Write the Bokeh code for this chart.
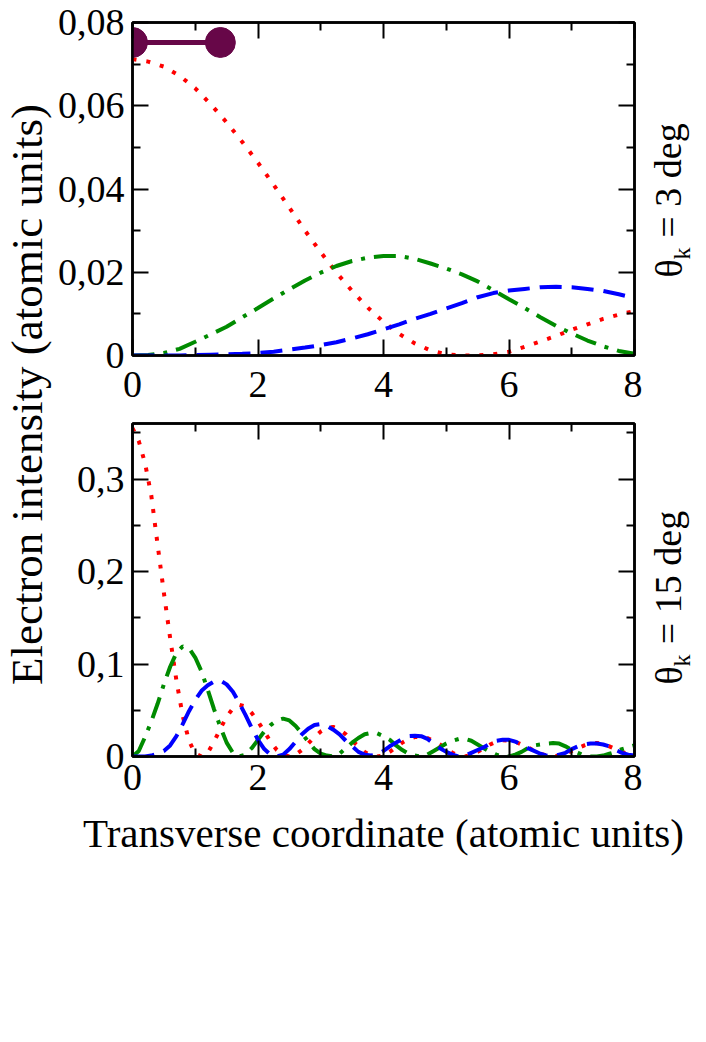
from math import pi
from bokeh.plotting import figure
from bokeh.layouts import row, column
from bokeh.models import (Range1d, LinearAxis, FixedTicker, CustomJSTickFormatter,
                          Label, ColumnDataSource)
from bokeh.embed import file_html
from bokeh.resources import INLINE

# ---------------- data ----------------
# top panel (theta_k = 3 deg)
x_top = [0.0, 0.25, 0.5, 0.75, 1.0, 1.25, 1.5, 1.75, 2.0, 2.25, 2.5, 2.75, 3.0,
         3.25, 3.5, 3.75, 4.0, 4.25, 4.5, 4.75, 5.0, 5.25, 5.5, 5.75, 6.0, 6.25,
         6.5, 6.75, 7.0, 7.25, 7.5, 7.75, 8.0]
top_red = [0.0712, 0.0706, 0.0694, 0.0672, 0.0642, 0.0603, 0.0560, 0.0513, 0.0463,
           0.0410, 0.0355, 0.0300, 0.0248, 0.0199, 0.0155, 0.0115, 0.0081, 0.0052,
           0.0029, 0.0012, 0.0003, 0.0000, 0.0000, 0.0003, 0.0009, 0.0021, 0.0034,
           0.0047, 0.0062, 0.0075, 0.0088, 0.0098, 0.0107]
top_green = [0.0000, 0.0001, 0.0006, 0.0016, 0.0033, 0.0051, 0.0069, 0.0092, 0.0114,
             0.0137, 0.0159, 0.0180, 0.0199, 0.0215, 0.0227, 0.0235, 0.0239, 0.0239,
             0.0232, 0.0221, 0.0209, 0.0195, 0.0178, 0.0157, 0.0135, 0.0114, 0.0092,
             0.0071, 0.0053, 0.0036, 0.0022, 0.0011, 0.0004]
top_blue = [0.0000, 0.0000, 0.0000, 0.0000, 0.0001, 0.0002, 0.0003, 0.0004, 0.0006,
            0.0009, 0.0014, 0.0019, 0.0025, 0.0032, 0.0041, 0.0051, 0.0063, 0.0075,
            0.0088, 0.0100, 0.0113, 0.0126, 0.0140, 0.0150, 0.0156, 0.0160, 0.0164,
            0.0165, 0.0164, 0.0160, 0.0155, 0.0147, 0.0138]

# molecule sketch (two atoms joined by a bond)
mol_x = [0.0, 1.4]
mol_y = [0.0752, 0.0752]

# bottom panel (theta_k = 15 deg)
x_bot = [0.0, 0.1, 0.2, 0.3, 0.4, 0.5, 0.6, 0.7, 0.8, 0.9, 1.0, 1.1, 1.2, 1.3, 1.4,
         1.5, 1.6, 1.7, 1.8, 1.9, 2.0, 2.1, 2.2, 2.3, 2.4, 2.5, 2.6, 2.7, 2.8, 2.9,
         3.0, 3.1, 3.2, 3.3, 3.4, 3.5, 3.6, 3.7, 3.8, 3.9, 4.0, 4.1, 4.2, 4.3, 4.4,
         4.5, 4.6, 4.7, 4.8, 4.9, 5.0, 5.1, 5.2, 5.3, 5.4, 5.5, 5.6, 5.7, 5.8, 5.9,
         6.0, 6.1, 6.2, 6.3, 6.4, 6.5, 6.6, 6.7, 6.8, 6.9, 7.0, 7.1, 7.2, 7.3, 7.4,
         7.5, 7.6, 7.7, 7.8, 7.9, 8.0]
bot_red = [0.355, 0.341, 0.317, 0.282, 0.229, 0.177, 0.128, 0.082, 0.044, 0.017,
           0.003, 0.000, 0.004, 0.016, 0.030, 0.043, 0.052, 0.056, 0.054, 0.047,
           0.038, 0.027, 0.016, 0.007, 0.002, 0.000, 0.002, 0.007, 0.014, 0.021,
           0.027, 0.031, 0.032, 0.029, 0.024, 0.017, 0.011, 0.005, 0.001, 0.000,
           0.001, 0.005, 0.010, 0.015, 0.019, 0.021, 0.0215, 0.020, 0.017, 0.013,
           0.008, 0.004, 0.001, 0.000, 0.002, 0.005, 0.009, 0.013, 0.016, 0.0175,
           0.017, 0.016, 0.013, 0.010, 0.006, 0.003, 0.001, 0.000, 0.001, 0.003,
           0.006, 0.009, 0.012, 0.014, 0.0145, 0.014, 0.011, 0.008, 0.005, 0.003,
           0.001]
bot_green = [0.000, 0.006, 0.021, 0.038, 0.057, 0.078, 0.097, 0.112, 0.119, 0.117,
             0.107, 0.092, 0.072, 0.051, 0.032, 0.015, 0.004, 0.000, 0.002, 0.009,
             0.018, 0.027, 0.034, 0.039, 0.041, 0.039, 0.033, 0.025, 0.016, 0.008,
             0.003, 0.001, 0.000, 0.003, 0.009, 0.015, 0.020, 0.024, 0.0255, 0.025,
             0.022, 0.018, 0.012, 0.007, 0.003, 0.001, 0.000, 0.002, 0.006, 0.010,
             0.014, 0.017, 0.019, 0.019, 0.017, 0.013, 0.009, 0.005, 0.002, 0.000,
             0.000, 0.002, 0.005, 0.009, 0.012, 0.013, 0.014, 0.0145, 0.014, 0.011,
             0.007, 0.004, 0.001, 0.000, 0.000, 0.001, 0.003, 0.005, 0.008, 0.010,
             0.012]
bot_blue = [0.000, 0.000, 0.000, 0.001, 0.003, 0.006, 0.012, 0.022, 0.035, 0.049,
            0.061, 0.071, 0.077, 0.081, 0.082, 0.078, 0.070, 0.058, 0.045, 0.031,
            0.018, 0.008, 0.002, 0.000, 0.002, 0.008, 0.016, 0.024, 0.030, 0.034,
            0.035, 0.033, 0.029, 0.024, 0.017, 0.011, 0.005, 0.002, 0.001, 0.002,
            0.006, 0.011, 0.015, 0.019, 0.022, 0.0225, 0.022, 0.019, 0.014, 0.009,
            0.005, 0.002, 0.000, 0.001, 0.004, 0.007, 0.010, 0.014, 0.017, 0.018,
            0.018, 0.016, 0.013, 0.009, 0.006, 0.003, 0.001, 0.000, 0.002, 0.004,
            0.008, 0.011, 0.013, 0.014, 0.014, 0.013, 0.011, 0.007, 0.004, 0.002,
            0.001]

x_major = [0, 2, 4, 6, 8]
x_minor = [1, 3, 5, 7]
top_y_major = [0, 0.02, 0.04, 0.06, 0.08]
top_y_minor = [0.01, 0.03, 0.05, 0.07]
bot_y_major = [0, 0.1, 0.2, 0.3]
bot_y_minor = [0.05, 0.15, 0.25, 0.35]

y_title = "Electron intensity (atomic units)"
x_title = "Transverse coordinate (atomic units)"
top_angle_text = "= 3 deg"
bot_angle_text = "= 15 deg"

# ---------------- style / layout ----------------
FONT = "Liberation Serif"
RED, GREEN, BLUE, MAROON = "#ff0000", "#008b00", "#0000ff", "#670748"
FRAME_W, FRAME_H = 502, 333
PAGE_W = 704
SIDE_W = 52
LEFT_B = 80
PANEL_RB = 8
RIGHT_W = PAGE_W - SIDE_W - LEFT_B - FRAME_W - PANEL_RB
RIGHT_X0 = SIDE_W + LEFT_B + FRAME_W + PANEL_RB   # page x of the right canvas
TOP_BT, TOP_BB = 22, 54
BOT_BT, BOT_BB = 14, 52
TITLE_H = 60
TOP_H = TOP_BT + FRAME_H + TOP_BB
BOT_H = BOT_BT + FRAME_H + BOT_BB
PANELS_H = TOP_H + BOT_H
TOTAL_H = PANELS_H + TITLE_H
XFMT = "return tick.toFixed(0);"
BLANK = 'return "";'


def style_axis(ax, ticks, minor, fmt, labels=True):
    ax.ticker = FixedTicker(ticks=ticks, minor_ticks=minor)
    ax.axis_line_width = 2.5
    ax.axis_line_color = "black"
    ax.major_tick_in = 16
    ax.major_tick_out = 0
    ax.minor_tick_in = 8
    ax.minor_tick_out = 0
    ax.major_tick_line_width = 2
    ax.minor_tick_line_width = 2
    ax.major_tick_line_color = "black"
    ax.minor_tick_line_color = "black"
    ax.major_label_text_font = FONT
    ax.major_label_text_color = "black"
    if labels:
        ax.formatter = CustomJSTickFormatter(code=fmt)
        ax.major_label_text_font_size = "38px"
    else:
        ax.formatter = CustomJSTickFormatter(code=BLANK)
        ax.major_label_text_font_size = "1px"
        ax.major_label_standoff = 0


def make_panel(yend, ymaj, ymin, yfmt, border_top, border_bottom, xstandoff):
    p = figure(frame_width=FRAME_W, frame_height=FRAME_H,
               x_range=Range1d(0, 8), y_range=Range1d(0, yend),
               min_border_left=LEFT_B, min_border_right=PANEL_RB,
               min_border_top=border_top, min_border_bottom=border_bottom,
               toolbar_location=None, output_backend="svg")
    p.grid.visible = False
    p.background_fill_color = "white"
    p.border_fill_color = "white"
    p.outline_line_color = "black"
    p.outline_line_width = 2.5
    style_axis(p.xaxis[0], x_major, x_minor, XFMT)
    style_axis(p.yaxis[0], ymaj, ymin, yfmt)
    p.xaxis[0].major_label_standoff = xstandoff
    p.yaxis[0].major_label_standoff = 8
    top_ax = LinearAxis()
    style_axis(top_ax, x_major, x_minor, XFMT, labels=False)
    p.add_layout(top_ax, "above")
    right_ax = LinearAxis()
    style_axis(right_ax, ymaj, ymin, yfmt, labels=False)
    p.add_layout(right_ax, "right")
    return p


top = make_panel(0.08, top_y_major, top_y_minor,
                 'return tick == 0 ? "0" : tick.toFixed(2).replace(".", ",");',
                 TOP_BT, TOP_BB, 16)
bot = make_panel(0.36, bot_y_major, bot_y_minor,
                 'return tick == 0 ? "0" : tick.toFixed(1).replace(".", ",");',
                 BOT_BT, BOT_BB, 8)

# curves
top.line(x_top, top_red, line_color=RED, line_width=4, line_dash="4 10")
top.line(x_top, top_green, line_color=GREEN, line_width=4, line_dash="22 9 4 9")
top.line(x_top, top_blue, line_color=BLUE, line_width=4, line_dash="22 10")
mol = ColumnDataSource(dict(x=mol_x, y=mol_y))
top.line("x", "y", source=mol, line_color=MAROON, line_width=5)
top.scatter("x", "y", source=mol, size=30, fill_color=MAROON, line_color=MAROON)

bot.line(x_bot, bot_red, line_color=RED, line_width=4, line_dash="4 10")
bot.line(x_bot, bot_green, line_color=GREEN, line_width=4, line_dash="22 9 4 9")
bot.line(x_bot, bot_blue, line_color=BLUE, line_width=4, line_dash="22 10")


def blank_canvas(w, h):
    c = figure(width=w, height=h, x_range=Range1d(0, w), y_range=Range1d(0, h),
               min_border=0, toolbar_location=None, output_backend="svg",
               x_axis_location=None, y_axis_location=None)
    c.grid.visible = False
    c.outline_line_color = None
    c.background_fill_color = "white"
    c.border_fill_color = "white"
    return c


# x-axis title below the bottom panel, centred on the frame
title_canvas = blank_canvas(PAGE_W - SIDE_W, TITLE_H)
title_canvas.add_layout(Label(x=LEFT_B + FRAME_W / 2, y=TITLE_H - 24, text=x_title,
                              text_font=FONT, text_font_size="41px", text_color="black",
                              text_align="center", text_baseline="middle"))

# right-hand angle labels (theta with subscript k) on one tall canvas;
# positions given as page pixels (x from page left, y from page top)
right = blank_canvas(RIGHT_W, PANELS_H)


def angle_label(y_theta, y_sub, y_rest, rest):
    common = dict(angle=pi / 2, text_font=FONT, text_color="black",
                  text_align="center", text_baseline="middle")
    right.add_layout(Label(x=668 - RIGHT_X0, y=PANELS_H - y_theta, text="θ",
                           text_font_size="38px", **common))
    right.add_layout(Label(x=681 - RIGHT_X0, y=PANELS_H - y_sub, text="k",
                           text_font_size="24px", **common))
    right.add_layout(Label(x=667 - RIGHT_X0, y=PANELS_H - y_rest, text=rest,
                           text_font_size="38px", **common))


angle_label(268, 253, 180, top_angle_text)
angle_label(675, 660, 577, bot_angle_text)

# shared y-axis title on a narrow side canvas
side = blank_canvas(SIDE_W, TOTAL_H)
side.add_layout(Label(x=26, y=TOTAL_H - 394, text=y_title, angle=pi / 2,
                      text_font=FONT, text_font_size="45px", text_color="black",
                      text_align="center", text_baseline="middle"))

layout = row(side, column(row(column(top, bot), right), title_canvas))
open("out.html", "w").write(file_html(layout, INLINE))
